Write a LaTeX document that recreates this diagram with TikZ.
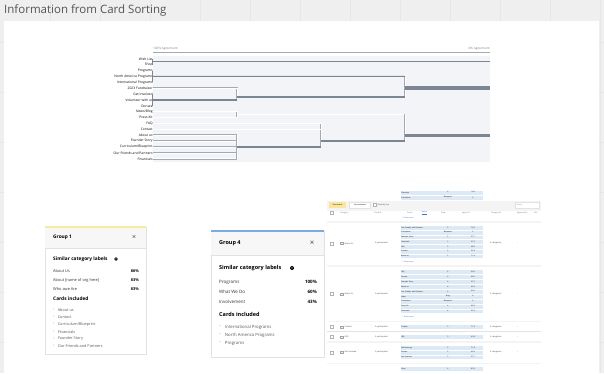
\documentclass[tikz,border=0pt]{standalone}
\usepackage{fontspec}
\setmainfont{Open Sans}
\usetikzlibrary{positioning}
\definecolor{pagebg}{HTML}{EFEFEF}
\definecolor{gridln}{HTML}{E7E7E7}
\definecolor{titlegray}{HTML}{555555}
\definecolor{panelbg}{HTML}{F3F4F7}
\definecolor{slate}{HTML}{7C8693}
\definecolor{leafgray}{HTML}{A3AAB4}
\definecolor{cardline}{HTML}{E2E2E2}
\definecolor{cardhead}{HTML}{F7F7F7}
\definecolor{grpyellow}{HTML}{F8EC9C}
\definecolor{grpblue}{HTML}{7AABE6}
\definecolor{cellblue}{HTML}{DDEAF6}
\definecolor{linkblue}{HTML}{3B78C9}
\definecolor{btnyellow}{HTML}{FBE6A0}
\definecolor{tblgray}{HTML}{F4F4F4}
\newcommand\fsz[1]{\fontsize{#1}{#1}\selectfont}

\begin{document}
\begin{tikzpicture}[x=1pt, y=-1pt,
    rowlbl/.style={anchor=east, inner sep=0, font=\fsz{3.3}},
    agree/.style={inner sep=0, text=gray, font=\fsz{3.1}},
    leaf/.style={draw=leafgray, line width=0.4pt, double=white, double distance=0.7pt},
    dlink/.style={draw=slate, line width=0.9pt},
    midlink/.style={draw=slate, line width=1.8pt},
    thicklink/.style={draw=slate, line width=3.3pt},
    cardbox/.style={draw=cardline, fill=white, line width=0.5pt},
    ctitle/.style={anchor=west, inner sep=0, font=\bfseries\fsz{#1}},
    ctext/.style={anchor=west, inner sep=0, text=black!80, font=\fsz{#1}},
    cpct/.style={anchor=east, inner sep=0, font=\bfseries\fsz{#1}},
    citem/.style={anchor=west, inner sep=0, text=black!65, font=\fsz{#1}},
    infoicon/.style={circle, fill=black, text=white, inner sep=0, minimum size=#1, font=\bfseries\fsz{2.8}},
    closex/.style={inner sep=0, text=black!75, font=\fsz{#1}},
    tcell/.style={fill=cellblue, draw=white, line width=0.3pt, anchor=north west, minimum height=#1, text width=81pt, inner xsep=1pt, inner ysep=0, align=left, font=\fsz{1.8}},
    tnum/.style={inner sep=0, font=\fsz{1.8}},
    ttxt/.style={anchor=west, inner sep=0, text=black!75, font=\fsz{2}},
    tlink/.style={anchor=west, inner sep=0, text=linkblue, font=\fsz{1.9}},
    chk/.style={draw=black!30, fill=white, line width=0.3pt, minimum size=3pt, inner sep=0},
    folder/.style={draw=black!35, fill=black!8, line width=0.3pt, minimum width=2.6pt, minimum height=2pt, inner sep=0},
    btn/.style={minimum width=#1, minimum height=5.4pt, inner sep=0, font=\fsz{1.8}}
]
\useasboundingbox (0,0) rectangle (604,373);
\fill[pagebg] (0,0) rectangle (604,373);
\foreach \gx in {50,100,...,600} \draw[gridln, line width=0.4pt] (\gx,0) -- (\gx,373);
\foreach \gy in {42,92,...,373} \draw[gridln, line width=0.4pt] (0,\gy) -- (604,\gy);
\fill[white] (4,21) rectangle (599,373);
\node[anchor=base west, inner sep=0, text=titlegray, font=\fsz{11.5}] (title) at (4,13.6) {Information from Card Sorting};

% dendrogram
\fill[panelbg] (153,55.7) rectangle (490,161.7);
\node[agree, anchor=west] (hi) at (153,48.3) {100\% Agreement};
\node[agree, anchor=east] (lo) at (490,48.3) {0\% Agreement};
\draw[leafgray, line width=0.7pt] (153,52.3) -- (490,52.3);
\foreach \t [count=\i from 0] in {Wish List,Shop,Programs,North America Programs,International Programs,2023 Fundraiser,Get Involved,Volunteer with us,Donate,News/Blog,Press Kit,FAQ,Contact,About us,Founder Story,Curriculum/Blueprint,Our Friends and Partners,Financials}
  \node[rowlbl] (r\i) at (152.8,58.8+5.88*\i) {\t};

\coordinate (wishend) at (490,61.5);
\coordinate (progj) at (405,76.4);
\coordinate (invj) at (237,100);
\coordinate (fundj) at (237,96.7);
\coordinate (topj) at (405,88);
\coordinate (topend) at (490,88);
\coordinate (newsj) at (237,114.3);
\coordinate (faqj) at (321,147);
\coordinate (aboutj) at (237,147);
\coordinate (faqout) at (321,140.7);
\coordinate (botj) at (405,135.3);
\coordinate (botend) at (490,135.3);

\draw[leaf] (r5.east) -| (invj);
\draw[leaf] (r9.east) -| (newsj);
\draw[leaf] (r10.east) -| (newsj);
\draw[leaf] (newsj) -- (newsj -| botj);
\draw[leaf] (r11.east) -| (faqj);
\draw[leaf] (r12.east) -| (faqj);
\foreach \i in {13,...,17} \draw[leaf] (r\i.east) -- (r\i.east -| aboutj);
\draw[leaf] (r13.east -| aboutj) -- (r17.east -| aboutj);
\draw[leaf] (progj) -- (fundj -| progj);
\draw[leaf] (newsj -| botj) -- (faqout -| botj);

\draw[dlink] (r0.east) -- (r1.east);
\draw[dlink] (r0.east |- wishend) -- (wishend);
\draw[dlink] (r2.east) -- (r4.east);
\draw[dlink] (r3.east) -- (progj);
\draw[dlink] (r6.east) -- (r8.east);
\draw[midlink] (r7.east) -- (invj);
\draw[midlink] (fundj) -- (fundj -| progj);
\draw[thicklink] (topj) -- (topend);
\draw[midlink] (aboutj) -- (faqj);
\draw[midlink] (faqout) -- (faqout -| botj);
\draw[thicklink] (botj) -- (botend);

% group 1 card
\draw[cardbox] (45,227) rectangle (146,354);
\fill[cardhead] (45.3,227.3) rectangle (145.7,248);
\draw[cardline, line width=0.4pt] (45,248) -- (146,248);
\draw[grpyellow, line width=1.2pt] (45,227) -- (146,227);
\node[ctitle=4.8] (g1) at (53,237) {Group 1};
\node[closex=7] (g1x) at (134,237) {×};
\node[ctitle=4.8] (g1sim) at (53,259) {Similar category labels};
\node[infoicon=3.6pt] (g1i) at (116,259) {?};
\foreach \t/\p [count=\k] in {About Us/86\%,About [name of org here]/83\%,Who awe Are/83\%} {
  \node[ctext=3.9] (g1l\k) at (53,262+9*\k) {\t};
  \node[cpct=3.9] (g1p\k) at (139,262+9*\k) {\p};
}
\node[ctitle=4.8] (g1cards) at (53,299) {Cards included};
\foreach \t [count=\k from 0] in {About us,Contact,Curriculum/Blueprint,Financials,Founder Story,Our Friends and Partners} {
  \node[citem=3.8] (g1d\k) at (53,310+7.2*\k) {-};
  \node[citem=3.8, right=3pt of g1d\k] (g1c\k) {\t};
}

% group 4 card
\draw[cardbox] (211,231) rectangle (324,357);
\fill[cardhead] (211.3,231.3) rectangle (323.7,255);
\draw[cardline, line width=0.4pt] (211,255) -- (324,255);
\draw[grpblue, line width=1.5pt] (211,231) -- (324,231);
\node[ctitle=5.5] (g4) at (219,243) {Group 4};
\node[closex=7.8] (g4x) at (312,243) {×};
\node[ctitle=5.5] (g4sim) at (219,268) {Similar category labels};
\node[infoicon=4pt] (g4i) at (292,268) {?};
\foreach \t/\p [count=\k] in {Programs/100\%,What We Do/60\%,Involvement/43\%} {
  \node[ctext=4.5] (g4l\k) at (219,272+10*\k) {\t};
  \node[cpct=4.5] (g4p\k) at (317,272+10*\k) {\p};
}
\node[ctitle=5.5] (g4cards) at (219,314) {Cards included};
\foreach \t [count=\k from 0] in {International Programs,North America Programs,Programs} {
  \node[citem=4.3] (g4d\k) at (219,327+8*\k) {-};
  \node[citem=4.3, right=4pt of g4d\k] (g4c\k) {\t};
}

% table
\foreach \t/\a/\b [count=\k from 0] in {Overview/6/16.6,Curriculum/Blueprint/6/14.3} {
  \node[tcell=5.3pt] (tp\k) at (400,189.6+5.3*\k) {\t};
  \node[tnum] (tpa\k) at (448,192.2+5.3*\k) {\a};
  \node[tnum] (tpb\k) at (473,192.2+5.3*\k) {\b};
}
\fill[tblgray] (327,200.5) rectangle (541,210.5);
\node[btn=17pt, fill=btnyellow] (std) at (337.5,205) {Standardize};
\node[btn=21pt, fill=white, draw=cardline] (unstd) at (360,205) {Unstandardize};
\node[chk] (showchk) at (374.5,205) {};
\node[ttxt, right=1.2pt of showchk] (showtop) {Show by top};
\node[btn=24pt, fill=white, draw=cardline, text=black!50, text width=22pt, align=left] (search) at (527.5,205) {Search};
\node[chk] (hchk) at (332,213) {};
\foreach \t/\hx in {Category/340,Cards \#/374,Cards/407,Freq/441,Agree \%/462,Categories/491,Agreement/517,Del/534}
  \node[ttxt, text=black!55] (h\hx) at (\hx,213) {\t};
\node[tlink] (hname) at (421.5,213) {\underline{Name}};
\node[tlink] (more0) at (402,217.3) {+ Show more};
\fill[tblgray] (327,221) rectangle (541,223.3);

% row A
\foreach \t/\a/\b [count=\k from 0] in {Our Friends and Partners/5/76.2,Curriculum/Blueprint/5/66.6,Founder Story/5/57.1,Financials/5/52.3,FAQ/5/38.0,Contact/5/33.3,About us/5/71.4} {
  \node[tcell=4.75pt] (ra\k) at (400,225+4.75*\k) {\t};
  \node[tnum] (raa\k) at (448,227.4+4.75*\k) {\a};
  \node[tnum] (rab\k) at (473,227.4+4.75*\k) {\b};
}
\node[chk] (rachk) at (332,243.3) {};
\node[folder] (rafold) at (341.5,243.3) {};
\node[ttxt] (racat) at (344.5,243.3) {About Us};
\node[ttxt] (rapart) at (375,243.3) {5 participants};
\node[ttxt] (racats) at (490,243.3) {4 categories};
\node[ttxt] (radash) at (517,243.3) {–};
\node[tlink] (more1) at (402,261.7) {+ Show more};
\fill[tblgray] (327,265) rectangle (541,266.8);

% row B
\foreach \t/\a/\b [count=\k from 0] in {FAQ/4/66.6,Donate/4/66.6,Founder Story/4/37.5,About us/4/66.6,Our Friends and Partners/4/66.6,News/Blog/4/50.0,Curriculum/Blueprint/4/50.0,Press Kit/4/66.6,Financials/4/33.3} {
  \node[tcell=4.9pt] (rb\k) at (400,269.3+4.9*\k) {\t};
  \node[tnum] (rba\k) at (448,271.75+4.9*\k) {\a};
  \node[tnum] (rbb\k) at (473,271.75+4.9*\k) {\b};
}
\node[chk] (rbchk) at (332,294) {};
\node[folder] (rbfold) at (341.5,294) {};
\node[ttxt] (rbcat) at (344.5,294) {About Us};
\node[ttxt] (rbpart) at (375,294) {5 participants};
\node[ttxt] (rbcats) at (490,294) {3 categories};
\node[ttxt] (rbdash) at (517,294) {–};
\node[tlink] (more2) at (402,316.7) {+ Show more};
\fill[tblgray] (327,320.5) rectangle (541,322.3);

% rows C to F
\node[tcell=5pt] (rc0) at (400,324.2) {Contact};
\node[tnum] (rca0) at (448,326.7) {5};
\node[tnum] (rcb0) at (473,326.7) {71.4};
\node[chk] (rcchk) at (332,326.7) {};
\node[folder] (rcfold) at (341.5,326.7) {};
\node[ttxt] (rccat) at (344.5,326.7) {Contact};
\node[ttxt] (rcpart) at (375,326.7) {5 participants};
\node[ttxt] (rccats) at (490,326.7) {4 categories};
\node[ttxt] (rcdash) at (517,326.7) {–};
\draw[cardline, line width=0.5pt] (327,331.6) -- (541,331.6);

\node[tcell=5pt] (rd0) at (400,334.2) {FAQ};
\node[tnum] (rda0) at (448,336.7) {3};
\node[tnum] (rdb0) at (473,336.7) {42.8};
\node[chk] (rdchk) at (332,336.7) {};
\node[folder] (rdfold) at (341.5,336.7) {};
\node[ttxt] (rdcat) at (344.5,336.7) {FAQ};
\node[ttxt] (rdpart) at (375,336.7) {5 participants};
\node[ttxt] (rdcats) at (490,336.7) {3 categories};
\node[ttxt] (rddash) at (517,336.7) {–};
\fill[tblgray] (327,341) rectangle (541,342.5);

\foreach \t/\a/\b [count=\k from 0] in {Volunteering/5/71.4,Donate/5/66.6,Get Involved/5/57.1} {
  \node[tcell=4.8pt] (re\k) at (400,345+4.8*\k) {\t};
  \node[tnum] (rea\k) at (448,347.4+4.8*\k) {\a};
  \node[tnum] (reb\k) at (473,347.4+4.8*\k) {\b};
}
\node[chk] (rechk) at (332,352.2) {};
\node[folder] (refold) at (341.5,352.2) {};
\node[ttxt] (recat) at (344.5,352.2) {Get Involved};
\node[ttxt] (repart) at (375,352.2) {5 participants};
\node[ttxt] (recats) at (490,352.2) {4 categories};
\node[ttxt] (redash) at (517,352.2) {–};
\fill[tblgray] (327,362.5) rectangle (541,364.3);
\node[tcell=5pt] (rf0) at (400,366) {Shop};
\node[tnum] (rfa0) at (448,368.5) {6};
\node[tnum] (rfb0) at (473,368.5) {83.3};
\end{tikzpicture}
\end{document}
